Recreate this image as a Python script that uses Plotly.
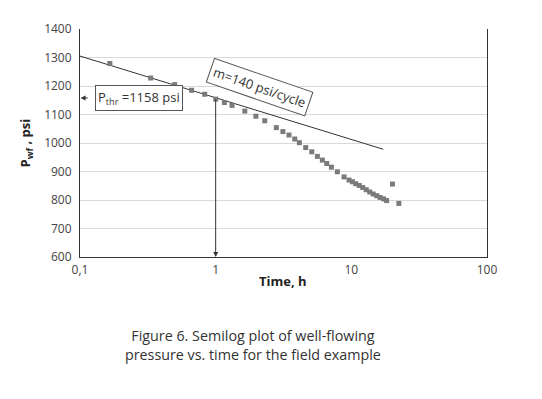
import plotly.graph_objects as go
import numpy as np

# measured data (time, h ; pressure, psi)
time_h = [0.166, 0.332, 0.499, 0.665, 0.83, 1.0, 1.16, 1.32, 1.64, 1.98, 2.30,
          2.80, 3.13, 3.47, 3.83, 4.14, 4.61, 5.11, 5.62, 6.12, 6.59, 7.13, 7.89,
          8.84, 9.62, 10.19, 10.77, 11.44, 12.14, 12.88, 13.67, 14.5, 15.4, 16.3,
          17.3, 18.2, 20.1, 22.4]
p_wf = [1279, 1228, 1205, 1185, 1171, 1154, 1142, 1132, 1112, 1094, 1078,
        1054, 1040, 1028, 1014, 1001, 984, 969, 953, 940, 928, 915, 899,
        881, 870, 864, 857, 851, 844, 836, 828, 821, 815, 809,
        804, 798, 856, 788]

# semilog straight line
line_t = [0.1, 17.2]
line_p = [1305, 978]

# threshold
t_thr = 1.0
p_thr = 1158
p_min = 600

x_tickvals = [0.1, 1, 10, 100]
x_ticktext = ["0,1", "1", "10", "100"]
y_tickvals = [600, 700, 800, 900, 1000, 1100, 1200, 1300, 1400]

font_fam = "Open Sans, DejaVu Sans, sans-serif"
dark = "#333333"

fig = go.Figure()
fig.add_trace(go.Scatter(x=line_t, y=line_p, mode="lines",
                         line=dict(color=dark, width=1), showlegend=False))
fig.add_trace(go.Scatter(x=time_h, y=p_wf, mode="markers",
                         marker=dict(symbol="square", size=5, color="#7a7a7a"),
                         showlegend=False))

# horizontal line from box to t=1
fig.add_shape(type="line", xref="x", yref="y",
              x0=np.log10(0.48), y0=p_thr, x1=np.log10(t_thr), y1=p_thr,
              line=dict(color=dark, width=1))

# vertical arrow at t=1 down to axis
fig.add_annotation(x=np.log10(t_thr), y=p_min, ax=np.log10(t_thr), ay=p_thr,
                   xref="x", yref="y", axref="x", ayref="y", text="", showarrow=True,
                   arrowhead=2, arrowsize=1, arrowwidth=1, arrowcolor=dark)
# left arrow from box to y-axis
fig.add_annotation(x=np.log10(0.101), y=p_thr, ax=np.log10(0.117), ay=p_thr,
                   xref="x", yref="y", axref="x", ayref="y", text="", showarrow=True,
                   arrowhead=2, arrowsize=1, arrowwidth=1, arrowcolor=dark)
# threshold box
fig.add_annotation(x=-0.568, y=p_thr, xref="x", yref="y",
                   text="P<sub>thr</sub> =1158 psi", showarrow=False,
                   font=dict(family=font_fam, size=13, color=dark),
                   bordercolor="#555555", borderwidth=1, borderpad=2, bgcolor="white")
# slope box
fig.add_annotation(x=0.32, y=1195, xref="x", yref="y", text="m=140 psi/cycle",
                   showarrow=False, textangle=19,
                   font=dict(family=font_fam, size=13, color=dark),
                   bordercolor="#555555", borderwidth=1, borderpad=3, bgcolor="white")

# axis titles
fig.add_annotation(text="<b>Time, h</b>", xref="paper", yref="paper",
                   x=0.499, y=-0.107, xanchor="center", yanchor="middle",
                   showarrow=False, font=dict(family=font_fam, size=13, color="#222222"))
fig.add_annotation(text="<b>P<sub>wf</sub> , psi</b>", xref="paper", yref="paper",
                   x=-0.133, y=0.502, xanchor="center", yanchor="middle",
                   textangle=-90, showarrow=False,
                   font=dict(family=font_fam, size=13, color="#222222"))

# caption
fig.add_annotation(
    text="Figure 6. Semilog plot of well-flowing<br>pressure vs. time for the field example",
    xref="paper", yref="paper", x=0.425, y=-0.388,
    xanchor="center", yanchor="middle", showarrow=False, align="center",
    font=dict(family=font_fam, size=14.3, color="#333333"))

fig.update_layout(
    width=542, height=399,
    margin=dict(l=72, r=63, t=16, b=150),
    paper_bgcolor="white", plot_bgcolor="white",
    font=dict(family=font_fam, size=12, color="#444444"),
    xaxis=dict(type="log", range=[-1, 2], tickvals=x_tickvals, ticktext=x_ticktext,
               showgrid=False, showline=True, linecolor=dark, linewidth=1,
               ticks="", zeroline=False, ticklabelstandoff=2),
    yaxis=dict(range=[600, 1400], tickvals=y_tickvals,
               showgrid=True, gridcolor="#d9d9d9", gridwidth=1,
               showline=True, linecolor=dark, linewidth=1, mirror=True,
               ticks="", zeroline=False, ticklabelstandoff=5),
)

fig.write_html("out.html")
